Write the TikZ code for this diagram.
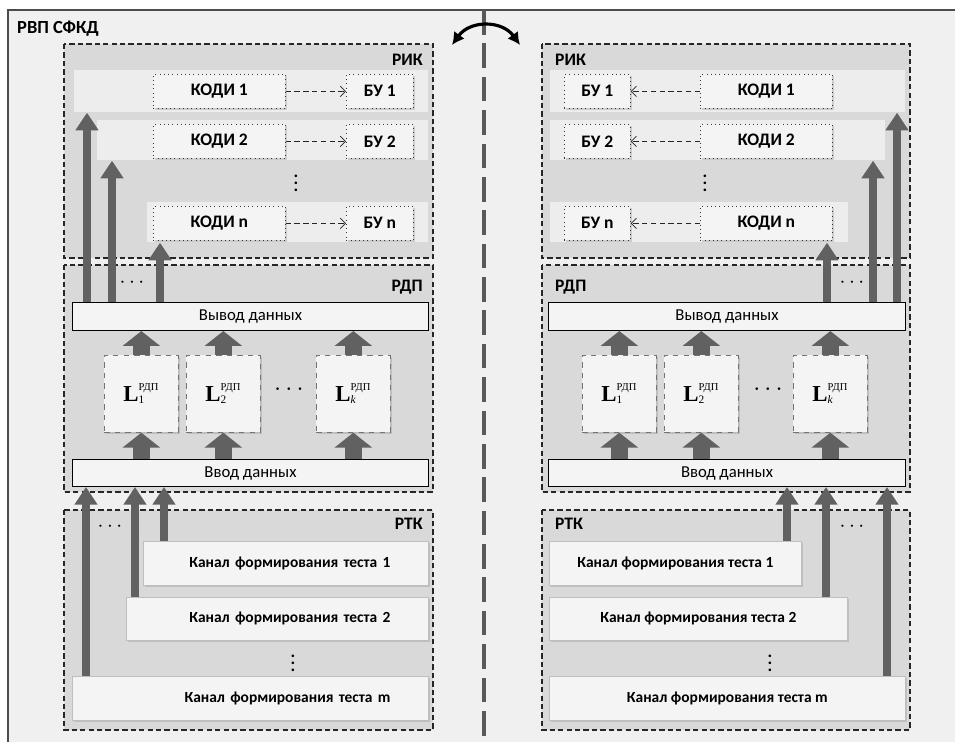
\documentclass[tikz,border=0pt]{standalone}
\usepackage{fontspec}
\setmainfont{Carlito}
\newfontfamily\lser{Liberation Serif}
\usetikzlibrary{arrows.meta,positioning,shadows}

\definecolor{panelc}{gray}{0.94}
\definecolor{sectc}{gray}{0.85}
\definecolor{stripc}{gray}{0.93}
\definecolor{boxc}{gray}{0.955}
\definecolor{pipec}{gray}{0.38}

\newcommand{\Lr}[1]{$\hbox{\lser\fontsize{13}{13}\selectfont\bfseries L}_{\hbox{\lser\fontsize{6.5}{6.5}\selectfont #1}}^{\hbox{\lser\fontsize{6}{6}\selectfont РДП}}$}

\tikzset{
  sectbox/.style={draw=black!85, fill=sectc, line width=0.7pt, dash pattern=on 3pt off 1.8pt},
  strip/.style={fill=stripc, draw=none, anchor=north west, inner sep=0pt},
  shad/.style={drop shadow={shadow xshift=0.7pt, shadow yshift=-0.7pt, opacity=0.3}},
  kod/.style={draw=black!80, dotted, fill=boxc, font=\bfseries, anchor=north west, inner sep=0pt, minimum height=0.68cm, shad},
  dat/.style={draw=black, line width=0.6pt, fill=boxc, anchor=north west, inner sep=0pt, font=\fontsize{9.5}{11}\selectfont},
  lblk/.style={draw=black!55, dashed, fill=boxc, anchor=north west, inner sep=0pt, minimum width=1.48cm, minimum height=1.54cm, shad},
  chan/.style={draw=black!25, fill=boxc, font=\fontsize{8.8}{10}\selectfont\bfseries, anchor=north west, inner sep=0pt, minimum height=0.88cm, shad},
  tag/.style={font=\fontsize{10}{12}\selectfont\bfseries},
  pipe/.style={draw=pipec, line width=4.5pt, -{Triangle[width=12.5pt,length=10pt]}},
  fat/.style={draw=pipec, line width=9.5pt, -{Triangle[width=21pt,length=8.5pt]}},
  dashar/.style={black!85, densely dashed, -{Straight Barb[length=3pt,width=6pt]}},
  dots/.style={font=\large},
}

\begin{document}
\begin{tikzpicture}[x=0.02cm,y=-0.02cm,font=\fontsize{9}{11}\selectfont]
  \useasboundingbox (0,0) rectangle (955,742);
  \fill[white] (0,0) rectangle (955,742);
  \draw[fill=panelc, draw=black!70, line width=0.9pt] (8,10) rectangle (975,760);
  \node[anchor=west, font=\fontsize{10.5}{12}\selectfont\bfseries] (ttl) at (11,29) {РВП СФКД};

  % middle divider and swap arrow
  \coordinate (mtop) at (484,10);
  \coordinate (mbot) at (484,742);
  \draw[draw=black!65, line width=2pt, dash pattern=on 14pt off 5pt] (mtop) -- (mbot);
  \coordinate (sw1) at (452,45);
  \coordinate (sw2) at (520,45);
  \draw[line width=1.8pt, {Latex[length=7pt,width=7.5pt]}-{Latex[length=7pt,width=7.5pt]}]
        (sw1) .. controls (470,20) and (502,20) .. (sw2);

  % ===== left side =====
  \draw[sectbox] (64,44) rectangle (433,258);
  \draw[sectbox] (64,265) rectangle (433,492);
  \draw[sectbox] (64,510) rectangle (433,730);
  \node[tag, anchor=east] (rikL) at (429,60) {РИК};
  \node[tag, anchor=east] (rdpL) at (429,287) {РДП};
  \node[tag, anchor=east] (rtkL) at (429,524) {РТК};

  \node[strip, minimum width=7.08cm, minimum height=0.84cm] (ra1) at (74,70) {};
  \node[strip, minimum width=6.62cm, minimum height=0.8cm] (ra2) at (97,120) {};
  \node[strip, minimum width=5.62cm, minimum height=0.8cm] (ran) at (147,202) {};
  \node[kod, minimum width=2.64cm] (ka1) at (153,74) {КОДИ 1};
  \node[kod, minimum width=2.64cm] (ka2) at (153,124) {КОДИ 2};
  \node[kod, minimum width=2.64cm] (kan) at (153,206) {КОДИ n};
  \node[kod, minimum width=1.34cm] (ba1) at (346,74) {БУ 1};
  \node[kod, minimum width=1.34cm] (ba2) at (346,124) {БУ 2};
  \node[kod, minimum width=1.34cm] (ban) at (346,206) {БУ n};
  \node[font=\bfseries] (vda) at (296,178) {\vdots};
  \draw[dashar] (ka1) -- (ba1);
  \draw[dashar] (ka2) -- (ba2);
  \draw[dashar] (kan) -- (ban);

  \node[dat, minimum width=7.12cm, minimum height=0.56cm] (outL) at (72,302) {Вывод данных};
  \node[lblk] (la1) at (104,355) {\Lr{1}};
  \node[lblk] (la2) at (186,355) {\Lr{2}};
  \node[lblk] (lak) at (316,355) {\Lr{\itshape k}};
  \node[font=\Large] (ldL) at (289,390) {$\cdots$};
  \node[dat, minimum width=7.12cm, minimum height=0.54cm] (inL) at (72,459) {Ввод данных};
  \node[dots] (pdL) at (132,283) {$\cdots$};
  \foreach \b in {la1,la2,lak} {
    \draw[fat] (\b.north) -- (outL.south -| \b.north);
    \draw[fat] (inL.north -| \b.south) -- (\b.south);
  }

  \node[chan, minimum width=5.7cm, text width=4.18cm, inner xsep=0.76cm, align=right] (ca1) at (143,541) {Канал формирования теста 1};
  \node[chan, minimum width=6.04cm, minimum height=0.86cm, text width=4.52cm, inner xsep=0.76cm, align=right] (ca2) at (126,597) {Канал формирования теста 2};
  \node[chan, minimum width=7.12cm, text width=5.6cm, inner xsep=0.76cm, align=right] (cam) at (72,676) {Канал формирования теста m};
  \node[font=\bfseries] (vdc) at (293,658) {\vdots};
  \node[dots] (pdT) at (110,527) {$\cdots$};

  \draw[pipe] (outL.north -| 87,0) -- (ra1.south -| 87,0);
  \draw[pipe] (outL.north -| 112,0) -- (ra2.south -| 112,0);
  \draw[pipe] (outL.north -| 160,0) -- (ran.south -| 160,0);
  \draw[pipe] (cam.north -| 86,0) -- (inL.south -| 86,0);
  \draw[pipe] (ca2.north -| 135,0) -- (inL.south -| 135,0);
  \draw[pipe] (ca1.north -| 164,0) -- (inL.south -| 164,0);

  % ===== right side =====
  \draw[sectbox] (542,44) rectangle (910,258);
  \draw[sectbox] (542,265) rectangle (910,492);
  \draw[sectbox] (542,510) rectangle (910,730);
  \node[tag, anchor=west] (rikR) at (549,60) {РИК};
  \node[tag, anchor=west] (rdpR) at (549,287) {РДП};
  \node[tag, anchor=west] (rtkR) at (549,524) {РТК};

  \node[strip, minimum width=7.1cm, minimum height=0.84cm] (rb1) at (550,70) {};
  \node[strip, minimum width=6.7cm, minimum height=0.8cm] (rb2) at (550,120) {};
  \node[strip, minimum width=5.96cm, minimum height=0.8cm] (rbn) at (550,202) {};
  \node[kod, minimum width=1.32cm] (bb1) at (564,74) {БУ 1};
  \node[kod, minimum width=1.32cm] (bb2) at (564,124) {БУ 2};
  \node[kod, minimum width=1.32cm] (bbn) at (564,206) {БУ n};
  \node[kod, minimum width=2.64cm] (kb1) at (700,74) {КОДИ 1};
  \node[kod, minimum width=2.64cm] (kb2) at (700,124) {КОДИ 2};
  \node[kod, minimum width=2.64cm] (kbn) at (700,206) {КОДИ n};
  \node[font=\bfseries] (vdb) at (705,178) {\vdots};
  \draw[dashar] (kb1) -- (bb1);
  \draw[dashar] (kb2) -- (bb2);
  \draw[dashar] (kbn) -- (bbn);

  \node[dat, minimum width=7.14cm, minimum height=0.56cm] (outR) at (548,302) {Вывод данных};
  \node[lblk] (lb1) at (582,355) {\Lr{1}};
  \node[lblk] (lb2) at (664,355) {\Lr{2}};
  \node[lblk] (lbk) at (793,355) {\Lr{\itshape k}};
  \node[font=\Large] (ldR) at (768,390) {$\cdots$};
  \node[dat, minimum width=7.14cm, minimum height=0.54cm] (inR) at (548,459) {Ввод данных};
  \node[dots] (pdR) at (852,283) {$\cdots$};
  \foreach \b in {lb1,lb2,lbk} {
    \draw[fat] (\b.north) -- (outR.south -| \b.north);
    \draw[fat] (inR.north -| \b.south) -- (\b.south);
  }

  \node[chan, minimum width=5.04cm] (cb1) at (549,541) {Канал формирования теста 1};
  \node[chan, minimum width=5.96cm, minimum height=0.86cm] (cb2) at (549,597) {Канал формирования теста 2};
  \node[chan, minimum width=7.12cm] (cbm) at (549,676) {Канал формирования теста m};
  \node[font=\bfseries] (vdd) at (770,658) {\vdots};
  \node[dots] (pdS) at (852,527) {$\cdots$};

  \draw[pipe] (outR.north -| 827,0) -- (rbn.south -| 827,0);
  \draw[pipe] (outR.north -| 873,0) -- (rb2.south -| 873,0);
  \draw[pipe] (outR.north -| 897,0) -- (rb1.south -| 897,0);
  \draw[pipe] (cb1.north -| 787,0) -- (inR.south -| 787,0);
  \draw[pipe] (cb2.north -| 826,0) -- (inR.south -| 826,0);
  \draw[pipe] (cbm.north -| 887,0) -- (inR.south -| 887,0);
\end{tikzpicture}
\end{document}
